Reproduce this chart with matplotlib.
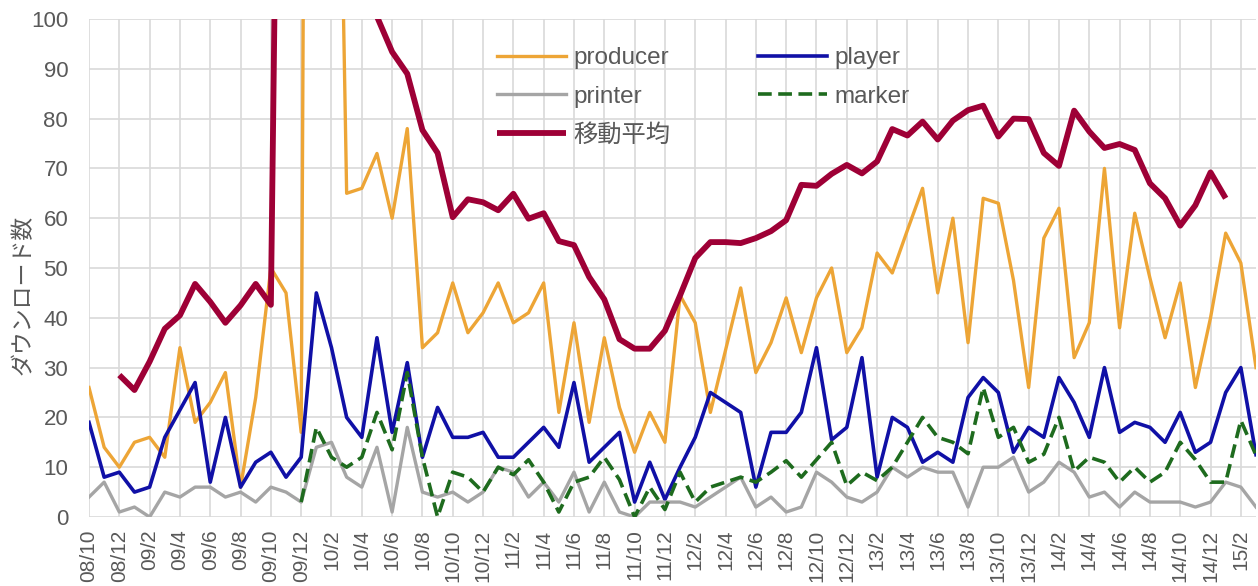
import numpy as np
import matplotlib
matplotlib.use("Agg")
import matplotlib.pyplot as plt

plt.rcParams['font.family'] = ['Liberation Sans', 'Noto Sans CJK JP', 'DejaVu Sans']

nan = np.nan

tick_labels = ['08/10', '08/12', '09/2', '09/4', '09/6', '09/8', '09/10', '09/12',
               '10/2', '10/4', '10/6', '10/8', '10/10', '10/12',
               '11/2', '11/4', '11/6', '11/8', '11/10', '11/12',
               '12/2', '12/4', '12/6', '12/8', '12/10', '12/12',
               '13/2', '13/4', '13/6', '13/8', '13/10', '13/12',
               '14/2', '14/4', '14/6', '14/8', '14/10', '14/12', '15/2']

producer = [26, 14, 10, 15, 16, 12, 34, 19, 23, 29, 6, 24, 50, 45, 17, 650, 237, 65, 66, 73,
            60, 78, 34, 37, 47, 37, 41, 47, 39, 41, 47, 21, 39, 19, 36, 22, 13, 21, 15, 44.5,
            39, 21, 33.5, 46, 29, 35, 44, 33, 44, 50, 33, 38, 53, 49, 57.6, 66, 45, 60, 35, 64,
            63, 47.5, 26, 56, 62, 32, 39, 70, 38, 61, 48, 36, 47, 26, 40, 57, 51, 30]

player = [19, 8, 9, 5, 6, 16, 21.5, 27, 7, 20, 6, 11, 13, 8, 12, 45, 34, 20, 16, 36,
          17, 31, 12, 22, 16, 16, 17, 12, 12, 15, 18, 14, 27, 11, 14, 17, 3, 11, 3.5, 10,
          16, 25, 23, 21, 6, 17, 17, 21, 34, 15.5, 18, 32, 8, 20, 18, 11, 13, 11, 24, 28,
          25, 13, 18, 16, 28, 23, 16, 30, 17, 19, 18, 15, 21, 13, 15, 25, 30, 12.5]

printer = [4, 7, 1, 2, 0, 5, 4, 6, 6, 4, 5, 3, 6, 5, 3, 14, 15, 8, 6, 14,
           1, 18, 5, 4, 5, 3, 5, 10, 9, 4, 7, 3, 9, 1, 7, 1, 0, 3, 3, 3,
           2, 4, 6, 8, 2, 4, 1, 2, 9, 7, 4, 3, 5, 10, 8, 10, 9, 9, 2, 10,
           10, 12, 5, 7, 11, 9, 4, 5, 2, 5, 3, 3, 3, 2, 3, 7, 6, 2]

marker = [nan, nan, nan, nan, nan, nan, nan, nan, nan, nan, nan, nan, nan, nan, 3, 18, 12, 10, 12, 21,
          13.5, 29, 12, 0, 9, 8, 5, 10, 8.5, 11.5, 7, 1, 7, 8, 12, 7.5, 0, 6, 1.5, 9,
          3, 6, 7, 8, 7, 9, 11.3, 8, 11.5, 15, 6.3, 9, 7.3, 10, 15, 20, 16, 15, 12.7, 26,
          16, 18, 11, 12.6, 20, 9.2, 12, 11, 7, 10, 7, 9, 15, 11.5, 7, 7, 19.4, 12.4]

moving_avg = [nan, nan, 28.5, 25.5, 31.2, 37.8, 40.5, 46.8, 43.2, 39, 42.5, 46.8, 42.6, 290, 320, 330, 300, 250, 180, 100.5,
              93.4, 89, 77.7, 73.1, 60.2, 63.8, 63.2, 61.6, 64.9, 59.9, 61, 55.4, 54.6, 48.2, 43.7, 35.7, 33.8, 33.8, 37.4, 44.5,
              52, 55.2, 55.2, 55, 56, 57.4, 59.6, 66.7, 66.5, 68.9, 70.7, 69, 71.4, 77.9, 76.6, 79.4, 75.8, 79.6, 81.7, 82.6,
              76.4, 80, 79.9, 73.1, 70.5, 81.6, 77.4, 74.1, 74.9, 73.7, 67, 64, 58.5, 62.6, 69.2, 64, nan, nan]

x = np.arange(len(producer))

W, H = 1258, 586
fig = plt.figure(figsize=(W / 100, H / 100), dpi=100)
ax = fig.add_axes([89 / W, 1 - 517 / H, (1256 - 89) / W, (517 - 19) / H])

text_color = '#595959'
grid_color = '#d9d9d9'

l_prod, = ax.plot(x, producer, color='#EDA536', lw=2.4, label='producer', solid_joinstyle='round')
l_play, = ax.plot(x, player, color='#1010A6', lw=2.6, label='player', solid_joinstyle='round')
l_prin, = ax.plot(x, printer, color='#A5A5A5', lw=2.4, label='printer', solid_joinstyle='round')
l_mark, = ax.plot(x, marker, color='#1E6B1E', lw=2.6, ls=(0, (3.8, 1.8)), label='marker',
                  dash_capstyle='butt')
l_avg, = ax.plot(x, moving_avg, color='#9E0036', lw=4.2, label='移動平均',
                 solid_joinstyle='round', solid_capstyle='butt')

ax.set_xlim(0, len(producer) - 1)
ax.set_ylim(0, 100)
ax.set_yticks(np.arange(0, 101, 10))
ax.set_xticks(x[::2][:len(tick_labels)])
ax.set_xticklabels(tick_labels, rotation=90, fontsize=15, color=text_color)
ax.tick_params(axis='y', labelsize=16, labelcolor=text_color, length=0, pad=15)
ax.tick_params(axis='x', length=0, pad=9)
ax.grid(True, color=grid_color, lw=1.2)
ax.set_axisbelow(True)
for s in ax.spines.values():
    s.set_visible(False)

ax.set_ylabel('ダウンロード数', fontsize=16.5, color=text_color)
ax.yaxis.set_label_coords(-0.0465, 0.446)

handles = [l_prod, l_prin, l_avg, l_play, l_mark]
leg = fig.legend(handles, [h.get_label() for h in handles], ncol=2, frameon=False,
                 loc='upper left', bbox_to_anchor=(497 / W, 1 - 47 / H),
                 fontsize=17.5, handlelength=2.85, handletextpad=0.3, columnspacing=3.6,
                 labelspacing=0.68, borderpad=0, borderaxespad=0)
for t in leg.get_texts():
    t.set_color(text_color)

fig.savefig('out.png', dpi=100)
